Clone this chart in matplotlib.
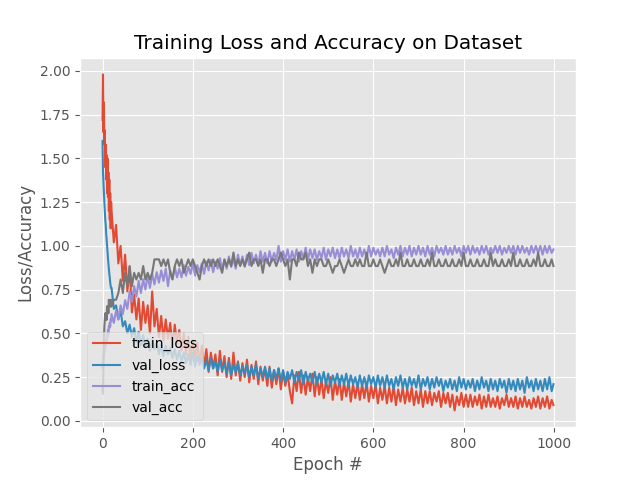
import matplotlib
matplotlib.use("Agg")
import matplotlib.pyplot as plt

epochs = list(range(0, 20)) + list(range(20, 1000, 5)) + [999]

train_loss = [
    1.72, 1.98, 1.65, 1.82, 1.58, 1.66, 1.45, 1.58, 1.38, 1.52,
    1.30, 1.50, 1.28, 1.42, 1.20, 1.38, 1.15, 1.30, 1.10, 1.25,
    1.20, 1.02, 1.12, 0.90, 1.00, 0.80, 0.95, 0.74, 0.88, 0.62,
    0.72, 0.58, 0.70, 0.52, 0.68, 0.56, 0.66, 0.50, 0.74, 0.54,
    0.64, 0.48, 0.60, 0.46, 0.58, 0.47, 0.56, 0.42, 0.55, 0.44,
    0.52, 0.40, 0.50, 0.38, 0.48, 0.36, 0.46, 0.35, 0.45, 0.33,
    0.43, 0.31, 0.41, 0.28, 0.39, 0.30, 0.38, 0.26, 0.40, 0.28,
    0.37, 0.25, 0.36, 0.24, 0.39, 0.26, 0.34, 0.23, 0.33, 0.25,
    0.35, 0.22, 0.32, 0.24, 0.34, 0.21, 0.31, 0.23, 0.30, 0.20,
    0.31, 0.19, 0.29, 0.21, 0.30, 0.18, 0.28, 0.20, 0.27, 0.17,
    0.10, 0.26, 0.17, 0.28, 0.16, 0.26, 0.15, 0.25, 0.17, 0.27,
    0.14, 0.25, 0.15, 0.24, 0.13, 0.23, 0.16, 0.25, 0.12, 0.23,
    0.15, 0.24, 0.12, 0.22, 0.14, 0.23, 0.11, 0.21, 0.13, 0.22,
    0.12, 0.21, 0.13, 0.22, 0.11, 0.20, 0.13, 0.21, 0.10, 0.19,
    0.12, 0.20, 0.10, 0.19, 0.11, 0.20, 0.09, 0.18, 0.11, 0.19,
    0.10, 0.18, 0.11, 0.19, 0.09, 0.17, 0.10, 0.18, 0.08, 0.17,
    0.10, 0.17, 0.09, 0.16, 0.11, 0.17, 0.08, 0.16, 0.10, 0.16,
    0.08, 0.15, 0.06, 0.14, 0.09, 0.16, 0.08, 0.15, 0.08, 0.15,
    0.08, 0.14, 0.09, 0.15, 0.07, 0.14, 0.08, 0.15, 0.08, 0.13,
    0.08, 0.14, 0.07, 0.13, 0.09, 0.15, 0.08, 0.13, 0.08, 0.14,
    0.07, 0.13, 0.08, 0.14, 0.08, 0.12, 0.07, 0.13, 0.08, 0.14,
    0.07, 0.13, 0.08, 0.14, 0.07, 0.12,
    0.09,
]

val_loss = [
    1.60, 1.42, 1.36, 1.30, 1.25, 1.20, 1.15, 1.12, 1.07, 1.04,
    1.00, 0.97, 0.93, 0.90, 0.87, 0.84, 0.82, 0.79, 0.77, 0.76,
    0.76, 0.64, 0.66, 0.58, 0.63, 0.54, 0.57, 0.50, 0.55, 0.48,
    0.53, 0.45, 0.51, 0.43, 0.49, 0.42, 0.47, 0.40, 0.46, 0.41,
    0.45, 0.38, 0.44, 0.37, 0.43, 0.38, 0.42, 0.36, 0.41, 0.35,
    0.40, 0.34, 0.39, 0.33, 0.38, 0.32, 0.39, 0.31, 0.37, 0.32,
    0.36, 0.30, 0.35, 0.29, 0.36, 0.30, 0.34, 0.28, 0.35, 0.29,
    0.33, 0.27, 0.34, 0.26, 0.32, 0.28, 0.33, 0.26, 0.31, 0.27,
    0.32, 0.25, 0.31, 0.26, 0.32, 0.24, 0.30, 0.25, 0.31, 0.24,
    0.30, 0.23, 0.29, 0.24, 0.30, 0.23, 0.29, 0.22, 0.28, 0.24,
    0.29, 0.22, 0.28, 0.23, 0.29, 0.21, 0.28, 0.23, 0.27, 0.22,
    0.28, 0.21, 0.27, 0.22, 0.28, 0.21, 0.27, 0.20, 0.26, 0.22,
    0.27, 0.20, 0.26, 0.21, 0.27, 0.20, 0.26, 0.21, 0.25, 0.19,
    0.26, 0.20, 0.25, 0.19, 0.26, 0.21, 0.25, 0.19, 0.26, 0.20,
    0.25, 0.19, 0.26, 0.20, 0.24, 0.18, 0.25, 0.20, 0.26, 0.19,
    0.24, 0.18, 0.25, 0.20, 0.24, 0.19, 0.26, 0.18, 0.24, 0.20,
    0.25, 0.18, 0.24, 0.19, 0.25, 0.20, 0.24, 0.17, 0.23, 0.19,
    0.24, 0.18, 0.23, 0.17, 0.25, 0.19, 0.24, 0.18, 0.23, 0.19,
    0.24, 0.17, 0.23, 0.18, 0.25, 0.19, 0.23, 0.17, 0.24, 0.18,
    0.23, 0.17, 0.24, 0.19, 0.23, 0.16, 0.24, 0.18, 0.23, 0.17,
    0.24, 0.18, 0.23, 0.16, 0.25, 0.19, 0.23, 0.17, 0.24, 0.18,
    0.23, 0.17, 0.24, 0.18, 0.25, 0.17,
    0.21,
]

train_acc = [
    0.30, 0.34, 0.38, 0.36, 0.41, 0.40, 0.44, 0.43, 0.47, 0.45,
    0.49, 0.48, 0.52, 0.50, 0.54, 0.53, 0.56, 0.54, 0.58, 0.57,
    0.61, 0.56, 0.63, 0.58, 0.66, 0.61, 0.69, 0.64, 0.74, 0.68,
    0.77, 0.71, 0.80, 0.73, 0.81, 0.75, 0.83, 0.76, 0.84, 0.78,
    0.85, 0.79, 0.86, 0.80, 0.87, 0.77, 0.86, 0.81, 0.88, 0.82,
    0.87, 0.82, 0.89, 0.83, 0.88, 0.84, 0.90, 0.83, 0.89, 0.85,
    0.90, 0.84, 0.91, 0.86, 0.92, 0.85, 0.91, 0.87, 0.93, 0.86,
    0.92, 0.87, 0.94, 0.88, 0.93, 0.87, 0.95, 0.89, 0.94, 0.88,
    0.95, 0.89, 0.96, 0.90, 0.95, 0.89, 0.97, 0.91, 0.96, 0.90,
    0.97, 0.91, 0.96, 0.92, 1.00, 0.91, 0.97, 0.92, 0.98, 0.91,
    0.97, 0.92, 0.98, 0.91, 0.97, 0.93, 0.99, 0.92, 0.98, 0.93,
    0.98, 0.92, 0.97, 0.93, 0.99, 0.92, 0.98, 0.94, 0.99, 0.93,
    0.98, 0.93, 0.99, 0.94, 0.98, 0.93, 1.00, 0.94, 0.98, 0.93,
    0.99, 0.94, 0.98, 0.93, 1.00, 0.94, 0.99, 0.95, 0.98, 0.94,
    0.99, 0.94, 1.00, 0.95, 0.98, 0.93, 0.99, 0.95, 1.00, 0.94,
    0.99, 0.95, 1.00, 0.94, 0.99, 0.95, 1.00, 0.95, 0.99, 0.94,
    1.00, 0.95, 0.99, 0.94, 1.00, 0.96, 0.99, 0.95, 1.00, 0.95,
    0.99, 0.95, 1.00, 0.96, 0.99, 0.94, 1.00, 0.96, 1.00, 0.95,
    1.00, 0.96, 0.99, 0.95, 1.00, 0.96, 1.00, 0.95, 0.99, 0.96,
    1.00, 0.96, 1.00, 0.95, 0.99, 0.96, 1.00, 0.96, 1.00, 0.95,
    1.00, 0.96, 1.00, 0.96, 0.99, 0.95, 1.00, 0.96, 1.00, 0.96,
    1.00, 0.95, 1.00, 0.96, 1.00, 0.96,
    0.98,
]

val_acc = [
    0.192, 0.154, 0.308, 0.462, 0.538, 0.577, 0.615, 0.577, 0.615, 0.577,
    0.654, 0.615, 0.654, 0.615, 0.692, 0.654, 0.654, 0.692, 0.654, 0.692,
    0.654, 0.692, 0.692, 0.731, 0.808, 0.731, 0.846, 0.769, 0.885, 0.769,
    0.846, 0.808, 0.846, 0.808, 0.885, 0.808, 0.846, 0.808, 0.846, 0.923,
    0.923, 0.923, 0.885, 0.923, 0.885, 0.923, 0.846, 0.808, 0.885, 0.923,
    0.885, 0.923, 0.846, 0.885, 0.923, 0.885, 0.923, 0.885, 0.846, 0.808,
    0.885, 0.923, 0.885, 0.923, 0.885, 0.923, 0.885, 0.923, 0.885, 0.846,
    0.923, 0.885, 0.923, 0.885, 0.962, 0.885, 0.923, 0.885, 0.923, 0.885,
    0.923, 0.962, 0.885, 0.923, 0.923, 0.885, 0.923, 0.846, 0.923, 0.923,
    0.885, 0.923, 0.923, 0.885, 0.923, 0.962, 0.923, 0.885, 0.923, 0.808,
    0.923, 0.923, 0.885, 0.962, 0.923, 0.923, 0.962, 0.885, 0.923, 0.846,
    0.923, 0.885, 0.923, 0.923, 0.885, 0.885, 0.923, 0.885, 0.846, 0.885,
    0.885, 0.923, 0.885, 0.846, 0.885, 0.923, 0.885, 0.885, 0.923, 0.885,
    0.923, 0.885, 0.885, 0.962, 0.885, 0.885, 0.923, 0.885, 0.885, 0.923,
    0.885, 0.846, 0.885, 0.923, 0.885, 0.885, 0.923, 0.885, 0.962, 0.885,
    0.885, 0.923, 0.885, 0.885, 0.923, 0.885, 0.885, 0.923, 0.885, 0.885,
    0.923, 0.885, 0.962, 0.885, 0.885, 0.923, 0.885, 0.885, 0.923, 0.885,
    0.885, 0.923, 0.885, 0.885, 0.923, 0.885, 0.962, 0.885, 0.885, 0.923,
    0.885, 0.885, 0.923, 0.885, 0.885, 0.923, 0.885, 0.885, 0.962, 0.885,
    0.923, 0.885, 0.885, 0.923, 0.885, 0.885, 0.923, 0.885, 0.962, 0.885,
    0.885, 0.923, 0.885, 0.885, 0.923, 0.885, 0.885, 0.923, 0.885, 0.962,
    0.885, 0.885, 0.923, 0.885, 0.885, 0.923,
    0.885,
]

plt.style.use("ggplot")
fig = plt.figure(figsize=(6.4, 4.8), dpi=100)
plt.plot(epochs, train_loss, label="train_loss")
plt.plot(epochs, val_loss, label="val_loss")
plt.plot(epochs, train_acc, label="train_acc")
plt.plot(epochs, val_acc, label="val_acc")
plt.title("Training Loss and Accuracy on Dataset")
plt.xlabel("Epoch #")
plt.ylabel("Loss/Accuracy")
plt.legend(loc="lower left")
plt.savefig("out.png", dpi=100)
